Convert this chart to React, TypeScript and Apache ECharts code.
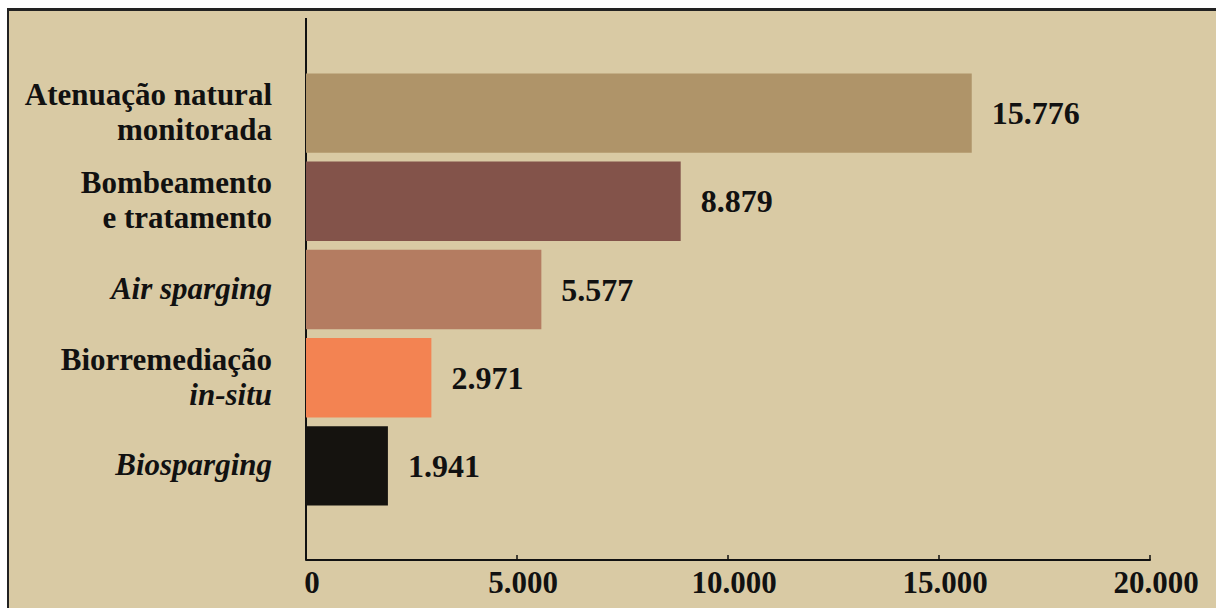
import React, { useEffect, useRef } from "react";
import * as echarts from "echarts";

const categories = [
  "Atenuação natural monitorada",
  "Bombeamento e tratamento",
  "Air sparging",
  "Biorremediação in-situ",
  "Biosparging",
];
// label lines per category: [text, italic]
const categoryLines: [string, boolean][][] = [
  [["Atenuação natural", false], ["monitorada", false]],
  [["Bombeamento", false], ["e tratamento", false]],
  [["Air sparging", true]],
  [["Biorremediação", false], ["in-situ", true]],
  [["Biosparging", true]],
];
const values = [15776, 8879, 5577, 2971, 1941];
const barColors = ["#AF9469", "#83534A", "#B47C61", "#F38352", "#15130F"];
const tickValues = [0, 5000, 10000, 15000, 20000];

const fmt = (v: number) => String(v).replace(/\B(?=(\d{3})+(?!\d))/g, ".");

const F = "Liberation Serif";
const LABEL_GAP = 34;
const LINE_H = 35;

export default function App() {
  const ref = useRef<HTMLDivElement>(null);
  useEffect(() => {
    if (!ref.current) return;
    const chart = echarts.init(ref.current, null, { renderer: "svg" });
    chart.setOption({
      animation: false,
      grid: { left: 306, right: 66, top: 69, bottom: 98 },
      xAxis: {
        type: "value",
        min: tickValues[0],
        max: tickValues[tickValues.length - 1],
        interval: 5000,
        offset: 50,
        axisLine: { show: true, lineStyle: { color: "#111", width: 2 } },
        axisTick: { show: true, inside: true, length: 5, lineStyle: { color: "#111", width: 1.5 } },
        splitLine: { show: false },
        axisLabel: {
          formatter: (v: number) => fmt(v),
          fontFamily: F,
          fontWeight: "bold",
          fontSize: 31,
          color: "#111",
          margin: 7,
          padding: [0, 0, 0, 12],
        },
      },
      yAxis: {
        type: "category",
        inverse: true,
        data: categories,
        axisLine: { show: false },
        axisTick: { show: false },
        splitLine: { show: false },
        axisLabel: { show: false },
      },
      series: [
        {
          type: "bar",
          data: values.map((v, i) => ({ value: v, itemStyle: { color: barColors[i] } })),
          barCategoryGap: "10%",
          label: {
            show: true,
            position: "right",
            distance: 20,
            formatter: (p: any) => fmt(p.value),
            fontFamily: F,
            fontWeight: "bold",
            fontSize: 32,
            color: "#111",
          },
        },
      ],
    });

    // category labels placed from the library's own scales
    const x0 = chart.convertToPixel({ xAxisIndex: 0 }, 0) as number;
    const texts: any[] = [];
    categoryLines.forEach((lines, i) => {
      const cy = chart.convertToPixel({ yAxisIndex: 0 }, categories[i]) as number;
      lines.forEach(([t, it], j) => {
        texts.push({
          type: "text",
          silent: true,
          x: x0 - LABEL_GAP,
          y: cy + (j - (lines.length - 1) / 2) * LINE_H - 1,
          style: {
            text: t,
            font: `${it ? "italic " : ""}bold 31px ${F}`,
            fill: "#111",
            align: "right",
            verticalAlign: "middle",
          },
        });
      });
    });
    chart.setOption({
      graphic: {
        elements: [
          {
            type: "line",
            silent: true,
            shape: { x1: x0, y1: 18, x2: x0, y2: 560 },
            style: { stroke: "#111", lineWidth: 2 },
          },
          ...texts,
        ],
      },
    });
    return () => chart.dispose();
  }, []);

  return (
    <div
      style={{
        position: "fixed",
        left: 0,
        top: 0,
        width: 1216,
        height: 608,
        background: "#ffffff",
        overflow: "hidden",
      }}
    >
      <div
        style={{
          position: "absolute",
          left: 7,
          top: 8,
          width: 1250,
          height: 650,
          borderLeft: "2px solid #222",
          borderTop: "3px solid #222",
          background: "#D9CAA4",
        }}
      />
      <div ref={ref} style={{ position: "absolute", left: 0, top: 0, width: 1216, height: 608 }} />
    </div>
  );
}
